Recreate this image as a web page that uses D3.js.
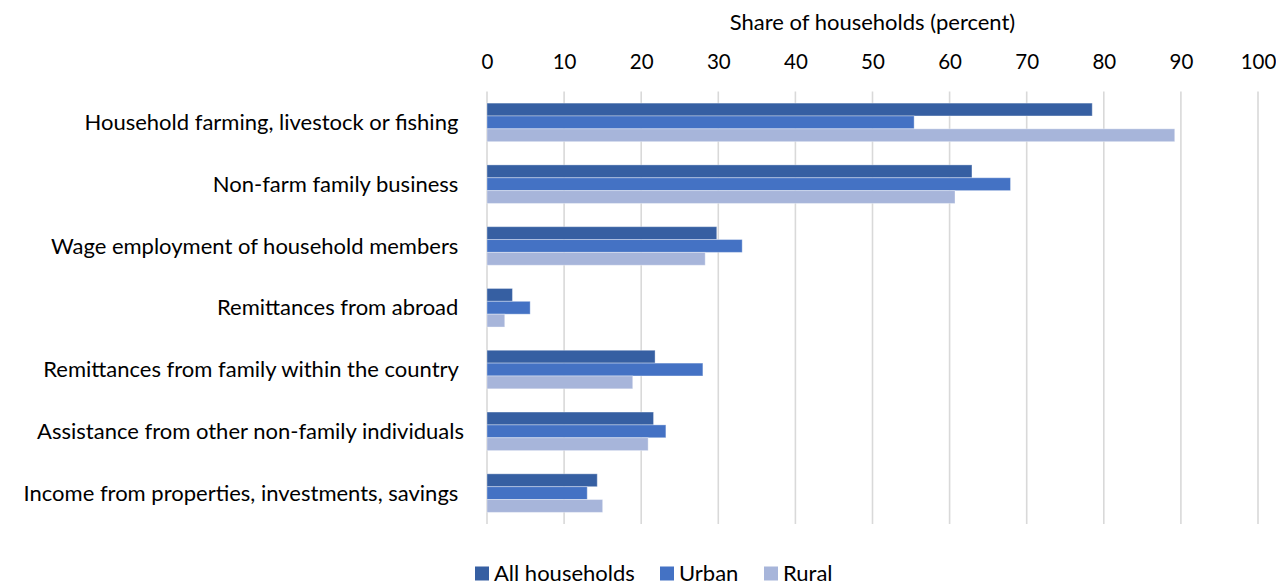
<!DOCTYPE html>
<html>
<head>
<meta charset="utf-8">
<script src="https://cdn.jsdelivr.net/npm/d3@7"></script>
<style>
  html, body { margin: 0; padding: 0; background: #ffffff; }
  svg { display: block; }
  text { font-family: Lato, "Open Sans", sans-serif; fill: #000000; }
</style>
</head>
<body>
<svg id="chart" width="1276" height="584"></svg>
<script>
// Sources of household income, share of households by area
const categories = [
  "Household farming, livestock or fishing ",
  "Non-farm family business ",
  "Wage employment of household members ",
  "Remittances from abroad ",
  "Remittances from family within the country ",
  "Assistance from other non-family individuals",
  "Income from properties, investments, savings "
];
const seriesNames = ["All households", "Urban", "Rural"];
const allHouseholds = [78.5, 62.9, 29.8, 3.3, 21.8, 21.6, 14.3];
const urban         = [55.4, 67.9, 33.1, 5.6, 28.0, 23.2, 13.0];
const rural         = [89.2, 60.7, 28.3, 2.3, 18.9, 20.9, 15.0];
const xTicks = [0, 10, 20, 30, 40, 50, 60, 70, 80, 90, 100];
const axisTitle = "Share of households (percent)";
const colors = ["#365fa2", "#4472c4", "#a7b5da"];

const seriesValues = [allHouseholds, urban, rural];

const svg = d3.select("#chart");
const margin = { top: 91.5, left: 487 };
const plotH = 524 - margin.top;
const fontSize = "22px";

const x = d3.scaleLinear().domain([0, 100]).range([0, 771]);
const y = d3.scaleBand().domain(categories).range([0, plotH]).paddingInner(0.376).paddingOuter(0.188);
const ySub = d3.scaleBand().domain(seriesNames).range([0, y.bandwidth()]);

const g = svg.append("g").attr("transform", `translate(${margin.left},${margin.top})`);

// vertical gridlines
g.append("g").selectAll("line").data(xTicks).join("line")
  .attr("x1", d => x(d)).attr("x2", d => x(d))
  .attr("y1", 0).attr("y2", plotH)
  .attr("stroke", "#d9d9d9").attr("stroke-width", 1.6);

// top axis labels
const axis = d3.axisTop(x).tickValues(xTicks).tickSize(0).tickPadding(0);
const axG = g.append("g").attr("transform", "translate(0,-22.5)").call(axis);
axG.select(".domain").remove();
axG.selectAll("text").style("font-family", "Lato, sans-serif").style("font-size", "20.5px").attr("fill", "#000");

// axis title
svg.append("text")
  .attr("x", margin.left + x(50)).attr("y", 30)
  .attr("text-anchor", "middle").style("font-size", fontSize)
  .text(axisTitle);

// bars
const groups = g.append("g").selectAll("g").data(categories).join("g")
  .attr("transform", c => `translate(0,${y(c)})`);
groups.selectAll("rect")
  .data((c, i) => seriesNames.map((s, k) => ({ s, v: seriesValues[k][i], k })))
  .join("rect")
  .attr("x", x(0))
  .attr("y", d => ySub(d.s))
  .attr("width", d => x(d.v) - x(0))
  .attr("height", ySub.bandwidth())
  .attr("fill", d => colors[d.k])
  .attr("stroke", "rgba(255,255,255,0.35)").attr("stroke-width", 1);

// category labels
g.append("g").selectAll("text").data(categories).join("text")
  .attr("x", -23)
  .attr("y", c => y(c) + y.bandwidth() / 2)
  .attr("dy", "0.35em")
  .attr("text-anchor", "end")
  .style("font-size", fontSize)
  .style("white-space", "pre")
  .text(c => c);

// legend
const legendItems = [
  { name: seriesNames[0], x: 475 },
  { name: seriesNames[1], x: 660 },
  { name: seriesNames[2], x: 764 }
];
const lg = svg.append("g").selectAll("g").data(legendItems).join("g")
  .attr("transform", d => `translate(${d.x},566.5)`);
lg.append("rect").attr("width", 14).attr("height", 14).attr("fill", (d, i) => colors[i]);
lg.append("text").attr("x", 19).attr("y", 14)
  .style("font-size", fontSize).text(d => d.name);
</script>
</body>
</html>
